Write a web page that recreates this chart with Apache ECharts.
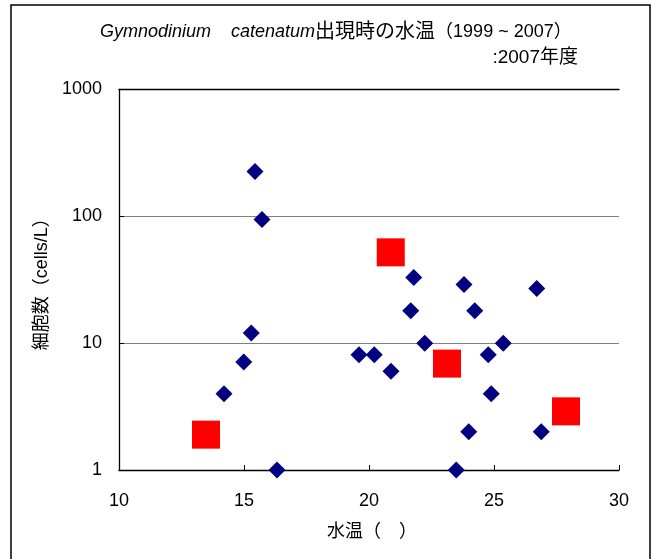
<!DOCTYPE html>
<html>
<head>
<meta charset="utf-8">
<script src="https://cdn.jsdelivr.net/npm/echarts@6/dist/echarts.min.js"></script>
<style>
html,body{margin:0;padding:0;background:#fff;}
#c{width:651px;height:559px;}
</style>
</head>
<body>
<div id="c"></div>
<script>
// Data
const pastTemp = [15.44, 15.72, 15.29, 14.99, 14.2, 16.32, 19.6, 20.21, 20.88, 21.79, 21.67, 22.23, 23.8, 24.23, 24.77, 25.37, 24.89, 23.99, 23.49, 26.71, 26.89];
const pastCells = [226, 94.6, 12, 7.1, 4, 1, 8.1, 8.1, 6, 33, 18, 10, 29, 18, 8.1, 10, 4, 2, 1, 27, 2];
const yearTemp = [13.48, 20.87, 23.12, 27.88];
const yearCells = [1.9, 52, 6.9, 2.9];
const xTicks = [10, 15, 20, 25, 30];
const yTicks = [1, 10, 100, 1000];

const FONT = "'Liberation Sans', 'Noto Sans CJK JP', sans-serif";
const pastData = pastTemp.map((t, i) => [t, pastCells[i]]);
const yearData = yearTemp.map((t, i) => [t, yearCells[i]]);

const chart = echarts.init(document.getElementById('c'), null, {renderer: 'canvas'});
chart.setOption({
  backgroundColor: '#fff',
  animation: false,
  textStyle: {fontFamily: FONT, color: '#000'},
  grid: {left: 119, right: 32, top: 89.5, bottom: 89},
  xAxis: [{
    type: 'value',
    min: xTicks[0], max: xTicks[xTicks.length - 1], interval: 5,
    name: '水温（　）',
    nameLocation: 'middle',
    nameGap: 53,
    nameTextStyle: {fontSize: 18, color: '#000', fontFamily: FONT, padding: [0, 0, 0, 6]},
    axisLine: {show: true, lineStyle: {color: '#000', width: 1.3}},
    axisTick: {show: true, inside: true, length: 5, lineStyle: {color: '#000'}},
    axisLabel: {fontSize: 18, color: '#000', margin: 22, fontFamily: FONT},
    splitLine: {show: false}
  }, {
    type: 'value', position: 'top',
    min: xTicks[0], max: xTicks[xTicks.length - 1], interval: 5,
    axisLine: {show: true, lineStyle: {color: '#000', width: 1.3}},
    axisTick: {show: false}, axisLabel: {show: false}, splitLine: {show: false}
  }],
  yAxis: {
    type: 'log', logBase: 10,
    min: yTicks[0], max: yTicks[yTicks.length - 1],
    name: '細胞数（cells/L）',
    nameLocation: 'middle',
    nameGap: 61,
    nameTextStyle: {fontSize: 18, color: '#000', fontFamily: FONT},
    axisLine: {show: true, lineStyle: {color: '#000', width: 1.3}},
    axisTick: {show: true, inside: true, length: 5, lineStyle: {color: '#000'}},
    axisLabel: {fontSize: 18, color: '#000', margin: 17, fontFamily: FONT,
      formatter: v => String(Math.round(v))},
    splitLine: {show: true, lineStyle: {color: '#808080', width: 1}}
  },
  series: [{
    type: 'scatter',
    data: pastData,
    symbol: 'diamond',
    symbolSize: 17,
    itemStyle: {color: '#000080', opacity: 1}
  }, {
    type: 'scatter',
    data: yearData,
    symbol: 'rect',
    symbolSize: 28,
    itemStyle: {color: '#FF0000', opacity: 1}
  }],
  graphic: [{
    type: 'rect',
    shape: {x: 11, y: 5, width: 639, height: 600},
    style: {fill: 'none', stroke: '#000', lineWidth: 1.5},
    silent: true
  }, {
    type: 'text',
    x: 100, y: 32,
    style: {
      text: '{i|Gymnodinium    catenatum}{j|出現時の水温}{n|（1999 ~ 2007）}',
      verticalAlign: 'middle',
      rich: {
        i: {fontSize: 18, fontStyle: 'italic', fontFamily: FONT, fill: '#000'},
        j: {fontSize: 20, fontFamily: FONT, fill: '#000'},
        n: {fontSize: 18, fontFamily: FONT, fill: '#000'}
      }
    }
  }, {
    type: 'text',
    x: 578, y: 58,
    style: {
      text: ':2007年度',
      align: 'right',
      verticalAlign: 'middle',
      fontSize: 19, fontFamily: FONT, fill: '#000'
    }
  }]
});
</script>
</body>
</html>
